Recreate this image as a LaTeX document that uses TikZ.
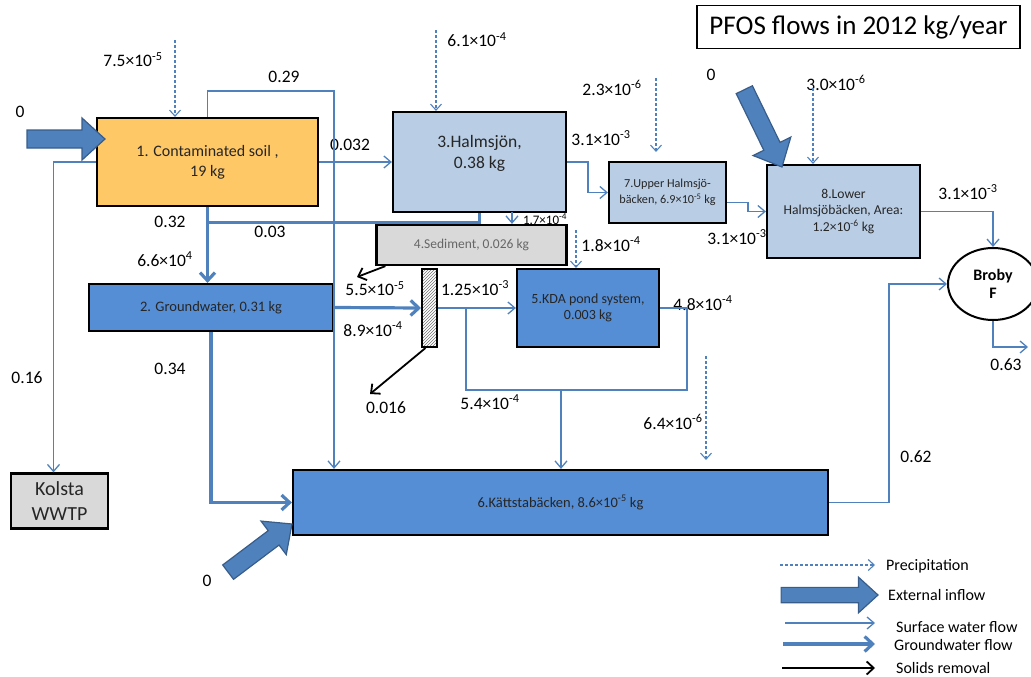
\documentclass[tikz,border=0pt]{standalone}
\usepackage{fontspec}
\setmainfont{Carlito}
\usetikzlibrary{arrows.meta,calc,patterns,shapes.geometric}
\definecolor{soilorange}{RGB}{255,200,102}
\definecolor{gwblue}{RGB}{85,142,213}
\definecolor{lakeblue}{RGB}{185,205,229}
\definecolor{sedgray}{RGB}{217,217,217}
\definecolor{flowblue}{RGB}{79,129,189}
\definecolor{inflowedge}{RGB}{56,93,138}
\newcommand{\sci}[2]{#1×10\textsuperscript{#2}}
\newcommand{\fsz}[2]{\fontsize{#1}{#2}\selectfont}

\begin{document}
\begin{tikzpicture}[x=1pt,y=-1pt,
  box/.style={draw,line width=2.2pt,inner sep=2pt,align=center,text=black!85},
  lab/.style={font=\fsz{17.5}{19},inner sep=0pt},
  surf/.style={flowblue,line width=1.3pt,-{Straight Barb[length=7pt,width=12pt]}},
  gwflow/.style={flowblue,line width=3.2pt,-{Straight Barb[length=8pt,width=15pt]}},
  precip/.style={flowblue,line width=1.1pt,dash pattern=on 3pt off 2pt,-{Straight Barb[length=6pt,width=11pt]}},
  solids/.style={black,line width=1.8pt,-{Straight Barb[length=7pt,width=13pt]}},
  legtext/.style={font=\fsz{16}{18},anchor=west,inner sep=0pt},
  inflow/.pic={\filldraw[fill=flowblue,draw=inflowedge,line width=1.2pt]
    (0,0) -- (-23,21) -- (-23,9) -- (-#1,9) -- (-#1,-9) -- (-23,-9) -- (-23,-21) -- cycle;}]
  \useasboundingbox (0,0) rectangle (1031,677);
  % flow values
  \node[lab] (l-p1) at (133,60) {\sci{7.5}{-5}};
  \node[lab] (l-in1) at (20,112) {0};
  \node[lab] (l-029) at (284,77) {0.29};
  \node[lab] (l-0032) at (350,145) {0.032};
  \node[lab] (l-032) at (170,222) {0.32};
  \node[lab] (l-003) at (270,232) {0.03};
  \node[lab] (l-66) at (165,259) {\sci{6.6}{4}};
  \node[lab] (l-034) at (170,369) {0.34};
  \node[lab] (l-016) at (27,378) {0.16};
  \node[lab] (l-p3) at (477,40) {\sci{6.1}{-4}};
  \node[lab] (l-31a) at (601,138) {\sci{3.1}{-3}};
  \node[lab] (l-p7) at (612,88) {\sci{2.3}{-6}};
  \node[lab,font=\fsz{13}{15}] (l-17) at (545,219) {\sci{1.7}{-4}};
  \node[lab] (l-p5) at (611,244) {\sci{1.8}{-4}};
  \node[lab] (l-in8) at (711,75) {0};
  \node[lab] (l-p8) at (836,83) {\sci{3.0}{-6}};
  \node[lab] (l-31c) at (968,192) {\sci{3.1}{-3}};
  \node[lab] (l-31b) at (737,237) {\sci{3.1}{-3}};
  \node[lab] (l-125) at (475,288) {\sci{1.25}{-3}};
  \node[lab] (l-55) at (375,289) {\sci{5.5}{-5}};
  \node[lab] (l-89) at (373,329) {\sci{8.9}{-4}};
  \node[lab] (l-0016) at (386,408) {0.016};
  \node[lab] (l-54) at (490,402) {\sci{5.4}{-4}};
  \node[lab] (l-48) at (703,303) {\sci{4.8}{-4}};
  \node[lab] (l-64) at (673,422) {\sci{6.4}{-6}};
  \node[lab] (l-062) at (916,457) {0.62};
  \node[lab] (l-063) at (1006,365) {0.63};
  \node[lab] (l-in6) at (207,581) {0};
  % compartments
  \node[box,fill=soilorange,minimum width=221pt,minimum height=88pt,font=\fsz{16}{20}] (soil) at (207.5,162) {1. Contaminated soil ,\\19 kg};
  \node[box,fill=gwblue,minimum width=244pt,minimum height=47pt,font=\fsz{14.5}{17}] (gw) at (211,307.5) {2. Groundwater, 0.31 kg};
  \node[box,fill=lakeblue,minimum width=173pt,minimum height=100pt,font=\fsz{17.5}{20.7}] (hal) at (479.5,162) {3.Halmsjön,\\0.38 kg\\\mbox{}};
  \node[box,fill=sedgray,minimum width=190pt,minimum height=40pt,font=\fsz{13.5}{16},text=black!60] (sed) at (471.5,245) {4.Sediment, 0.026 kg};
  \node[draw,line width=2pt,pattern=north east lines,pattern color=black!55,minimum width=15pt,minimum height=78pt] (hatch) at (429.5,308) {};
  \node[box,fill=gwblue,minimum width=142pt,minimum height=78pt,font=\fsz{14}{15.5}] (kda) at (588,308) {5.KDA pond system,\\0.003 kg};
  \node[box,fill=gwblue,minimum width=535pt,minimum height=65pt,font=\fsz{14.5}{17}] (ktt) at (560.5,502.5) {6.Kättstabäcken, \sci{8.6}{-5} kg};
  \node[box,fill=lakeblue,minimum width=117pt,minimum height=61pt,font=\fsz{12.2}{16}] (up7) at (667.5,192.5) {7.Upper Halmsjö-\\bäcken, \sci{6.9}{-5} kg};
  \node[box,fill=lakeblue,minimum width=153pt,minimum height=93pt,font=\fsz{13.6}{16.5}] (low8) at (843.5,211.5) {8.Lower\\Halmsjöbäcken, Area:\\\sci{1.2}{-6} kg};
  \node[box,fill=sedgray,minimum width=97pt,minimum height=55pt,font=\fsz{20}{25}] (kol) at (59.5,501) {Kolsta\\WWTP};
  \node[ellipse,draw,line width=2pt,minimum width=90pt,minimum height=72pt,inner sep=0pt,align=center,font=\bfseries\fsz{16}{18}] (broby) at (993,284) {Broby\\F};
  \node[draw,line width=1.3pt,minimum width=323pt,minimum height=43pt,font=\fsz{27}{30}] (title) at (858.5,27) {PFOS flows in 2012 kg/year};
  % precipitation
  \coordinate (p1) at (175,40);
  \coordinate (p3) at (436,30);
  \coordinate (p7) at (656,78);
  \coordinate (p8) at (813,88);
  \coordinate (p5) at (576,230);
  \coordinate (p6) at (706,356);
  \draw[precip] (p1) -- (p1 |- soil.north);
  \draw[precip] (p3) -- (p3 |- hal.north);
  \draw[precip,shorten >=9pt] (p7) -- (p7 |- up7.north);
  \draw[precip] (p8) -- (p8 |- low8.north);
  \draw[precip] (p5) -- (p5 |- kda.north);
  \draw[precip,shorten >=9pt] (p6) -- (p6 |- ktt.north);
  % surface water
  \coordinate (c029) at (334,91);
  \draw[surf] (soil.north) |- (c029) -- (c029 |- ktt.north);
  \draw[surf] (soil.east) -- (hal.west);
  \draw[surf] (soil.west) -| ([xshift=-6pt]kol.north);
  \coordinate (c17) at (512,212);
  \draw[surf] (c17) -- (c17 |- sed.north);
  \draw[surf] (hal.east) -- ++(21,0) |- (up7.west);
  \draw[surf] ([yshift=-10pt]up7.east) -- ++(21,0) |- (low8.west);
  \draw[surf] (low8.east) -| (broby.north);
  \draw[surf] (ktt.east) -- ++(60,0) |- (broby.west);
  \coordinate (bout) at (1028,347);
  \draw[surf] (broby.south) |- (bout);
  \draw[surf] (hatch.east) -- (kda.west);
  \coordinate (jn) at (466,390);
  \coordinate (jk) at (561,390);
  \draw[surf,-] (kda.east) -- ++(27,0) |- (jn) -- (jn |- hatch.east);
  \draw[surf] (jk) -- (jk |- ktt.north);
  % groundwater
  \draw[gwflow] (soil.south) -- (soil.south |- gw.north);
  \draw[gwflow,-] (hal.south) |- ($(soil.south)+(0,15)$);
  \draw[gwflow] (gw.south) |- (ktt.west);
  \draw[gwflow] (gw.east) -- (hatch.west);
  % solids removal
  \coordinate (s1) at (357,277);
  \coordinate (s2) at (370,394);
  \draw[solids] ($(sed.south west)+(10,0)$) -- (s1);
  \draw[solids] ([xshift=-4pt]hatch.south) -- (s2);
  % external inflows
  \coordinate (in1) at (105,139);
  \coordinate (in8) at (782,167);
  \coordinate (in6) at (292,524);
  \pic[shift={(in1)}] {inflow=78};
  \pic[shift={(in8)},rotate=-64] {inflow=86};
  \pic[shift={(in6)},rotate=37] {inflow=80};
  % legend
  \coordinate (lg1) at (780,565);
  \coordinate (lg2) at (878,595);
  \coordinate (lg3) at (785,623);
  \coordinate (lg4) at (783,644);
  \coordinate (lg5) at (782,668);
  \draw[precip] (lg1) -- ++(95,0);
  \pic[shift={(lg2)},scale=0.85] {inflow=114};
  \draw[surf] (lg3) -- ++(90,0);
  \draw[gwflow] (lg4) -- ++(92,0);
  \draw[solids] (lg5) -- ++(93,0);
  \node[legtext] (leg-prec) at (886,566) {Precipitation};
  \node[legtext] (leg-ext) at (888,595) {External inflow};
  \node[legtext] (leg-surf) at (896,627) {Surface water flow};
  \node[legtext] (leg-gw) at (894,645) {Groundwater flow};
  \node[legtext] (leg-sol) at (896,668) {Solids removal};
\end{tikzpicture}
\end{document}
